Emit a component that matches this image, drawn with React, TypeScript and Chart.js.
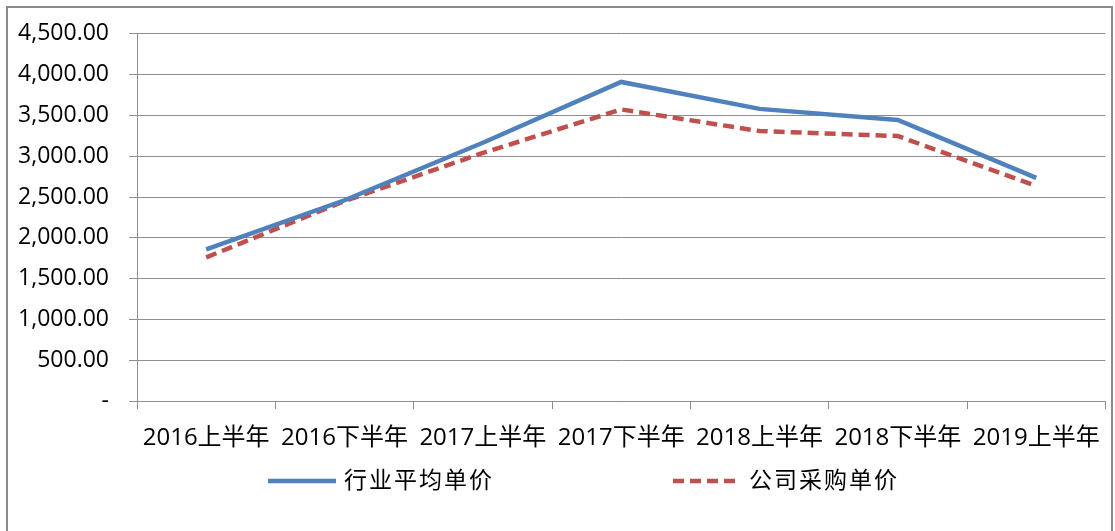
import React, { useEffect, useRef } from "react";
import { Chart, registerables } from "chart.js";

Chart.register(...registerables);

const categories = [
  "2016上半年",
  "2016下半年",
  "2017上半年",
  "2017下半年",
  "2018上半年",
  "2018下半年",
  "2019上半年",
];
const industryAvgPrice = [1858, 2460, 3165, 3910, 3580, 3445, 2735];
const companyPurchasePrice = [1760, 2450, 3040, 3573, 3308, 3247, 2635];
const seriesNames = ["行业平均单价", "公司采购单价"];
const yMin = 0;
const yMax = 4500;
const yStep = 500;

const FONT = '"Open Sans", "Noto Sans CJK SC", sans-serif';
const BLUE = "#4F81BD";
const RED = "#C0504D";
const GRID = "#8E8E8E";

const fmt = (v: number) =>
  v === 0
    ? "-"
    : v.toLocaleString("en-US", { minimumFractionDigits: 2, maximumFractionDigits: 2 });

const framePlugin = {
  id: "frameAndLegend",
  afterDraw(chart: any) {
    const ctx = chart.ctx;
    const area = chart.chartArea;
    ctx.save();
    // outer frame
    ctx.strokeStyle = "#8A8A8A";
    ctx.lineWidth = 2;
    ctx.strokeRect(7, 7, chart.width - 10, chart.height + 20);
    // legend
    const y = area.bottom + 80;
    const starts = [area.left + 131, area.left + 536];
    chart.data.datasets.forEach((ds: any, i: number) => {
      const x0 = starts[i];
      ctx.beginPath();
      ctx.strokeStyle = ds.borderColor;
      ctx.lineWidth = ds.borderWidth;
      ctx.setLineDash(ds.borderDash || []);
      ctx.lineCap = "butt";
      ctx.moveTo(x0, y);
      ctx.lineTo(x0 + 68, y);
      ctx.stroke();
      ctx.setLineDash([]);
      ctx.fillStyle = "#000";
      ctx.font = `23px ${FONT}`;
      (ctx as any).letterSpacing = "2px";
      ctx.textBaseline = "middle";
      ctx.textAlign = "left";
      ctx.fillText(ds.label, x0 + 76, y);
      (ctx as any).letterSpacing = "0px";
    });
    ctx.restore();
  },
};

export default function App() {
  const ref = useRef<HTMLCanvasElement | null>(null);
  useEffect(() => {
    if (!ref.current) return;
    const chart = new Chart(ref.current, {
      type: "line",
      data: {
        labels: categories,
        datasets: [
          {
            label: seriesNames[0],
            data: industryAvgPrice,
            borderColor: BLUE,
            backgroundColor: BLUE,
            borderWidth: 4.5,
            pointRadius: 0,
            tension: 0,
          },
          {
            label: seriesNames[1],
            data: companyPurchasePrice,
            borderColor: RED,
            backgroundColor: RED,
            borderWidth: 4.5,
            borderDash: [11, 6],
            pointRadius: 0,
            tension: 0,
          },
        ],
      },
      options: {
        responsive: false,
        animation: false,
        devicePixelRatio: 1,
        layout: { padding: { left: 0, top: 33, right: 5, bottom: 0 } },
        plugins: { legend: { display: false }, tooltip: { enabled: false } },
        scales: {
          x: {
            type: "category",
            offset: true,
            grid: {
              display: true,
              offset: true,
              drawOnChartArea: false,
              drawTicks: true,
              tickLength: 8,
              color: GRID,
            },
            border: { display: true, color: GRID, width: 1 },
            ticks: {
              color: "#000",
              font: { family: FONT, size: 24 },
              padding: 15,
              maxRotation: 0,
              autoSkip: false,
            },
            afterFit(scale: any) {
              scale.height = 130;
            },
          },
          y: {
            min: yMin,
            max: yMax,
            grid: { color: GRID, tickLength: 8, drawTicks: true },
            border: { display: true, color: GRID, width: 1 },
            ticks: {
              stepSize: yStep,
              color: "#000",
              font: { family: FONT, size: 23 },
              padding: 20,
              callback: (v: any) => fmt(Number(v)),
            },
            afterFit(scale: any) {
              scale.width = 137;
            },
          },
        },
      },
      plugins: [framePlugin],
    });
    return () => chart.destroy();
  }, []);
  return (
    <div style={{ position: "absolute", left: 0, top: 0, width: 1115, height: 531, background: "#fff" }}>
      <canvas ref={ref} width={1115} height={531} style={{ display: "block" }} />
    </div>
  );
}
